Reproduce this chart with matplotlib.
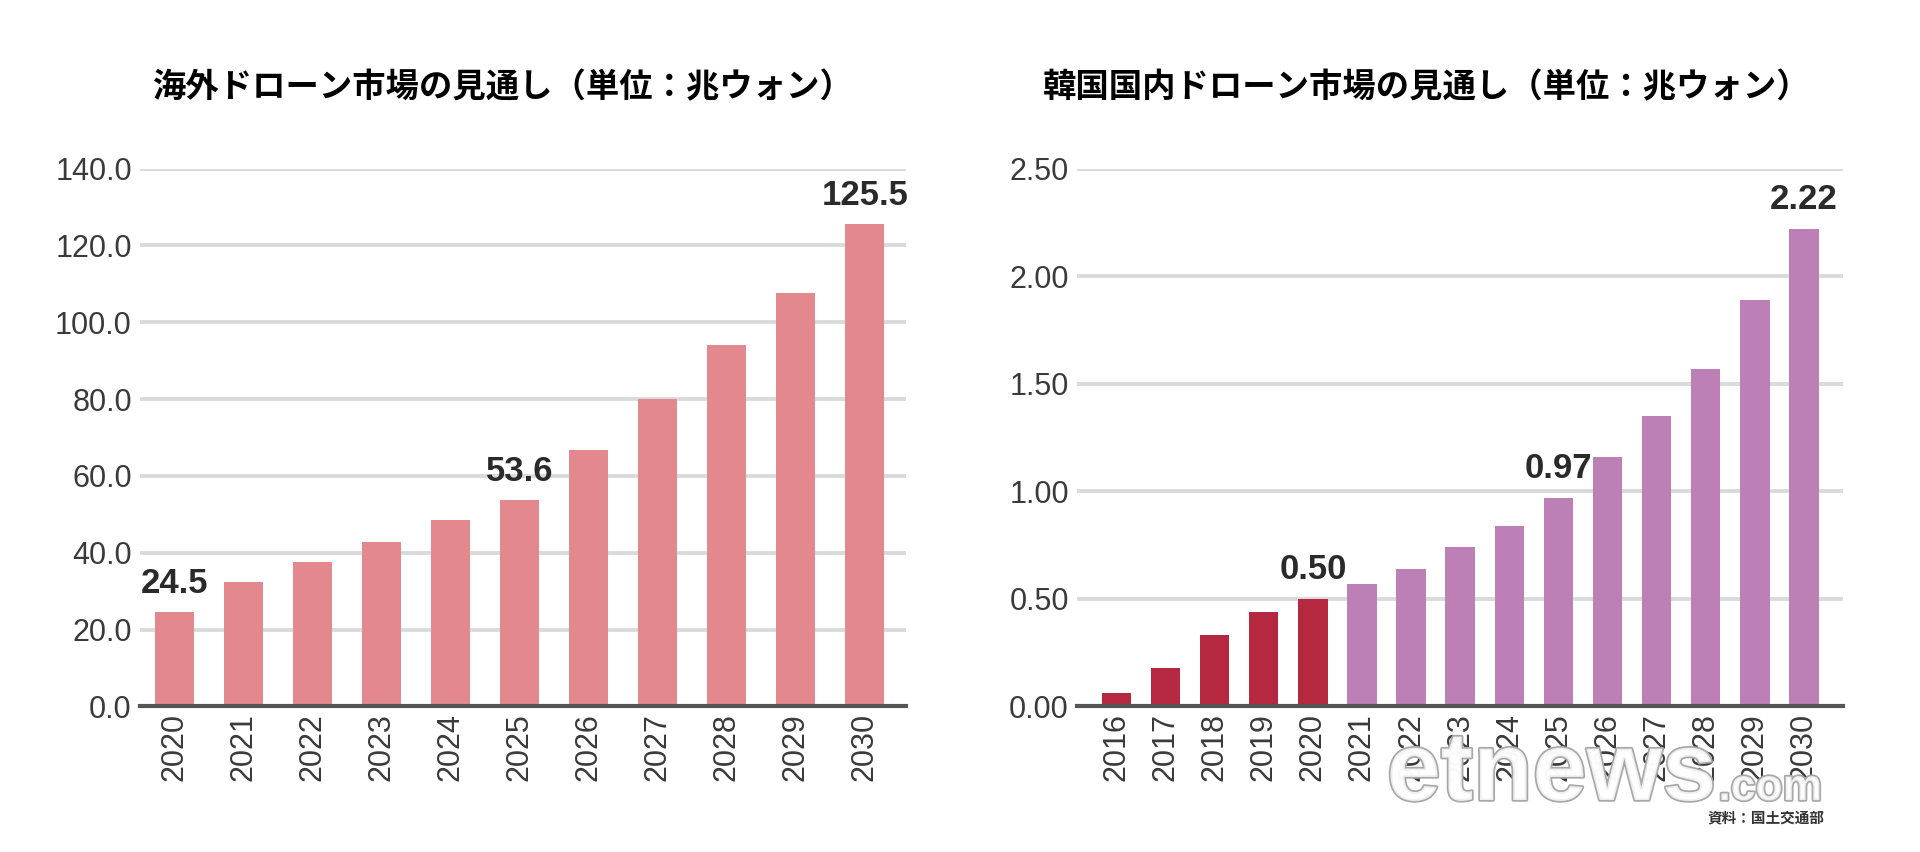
import numpy as np
import matplotlib
matplotlib.use('Agg')
import matplotlib.pyplot as plt
import matplotlib.patheffects as pe

plt.rcParams['font.family'] = ['Noto Sans CJK JP', 'DejaVu Sans']

# data
world_years = ['2020', '2021', '2022', '2023', '2024', '2025', '2026', '2027', '2028', '2029', '2030']
world_values = [24.5, 32.5, 37.5, 42.8, 48.6, 53.6, 66.8, 80.0, 94.2, 107.5, 125.5]
world_labels = {0: '24.5', 5: '53.6', 10: '125.5'}

korea_years = ['2016', '2017', '2018', '2019', '2020', '2021', '2022', '2023',
               '2024', '2025', '2026', '2027', '2028', '2029', '2030']
korea_values = [0.06, 0.18, 0.33, 0.44, 0.50, 0.57, 0.64, 0.74,
                0.84, 0.97, 1.16, 1.35, 1.57, 1.89, 2.22]
korea_labels = {4: '0.50', 9: '0.97', 14: '2.22'}

world_title = '海外ドローン市場の見通し（単位：兆ウォン）'
korea_title = '韓国国内ドローン市場の見通し（単位：兆ウォン）'
source_text = '資料：国土交通部'

pink = '#E3888C'
dark_red = '#B5283F'
purple = '#BC80B7'
grid_col = '#DADADA'
text_col = '#3A3A3A'
num_font = ['Liberation Sans', 'DejaVu Sans']

fig = plt.figure(figsize=(19.2, 8.52), dpi=100)
ax1 = fig.add_axes([0.073, 0.171, 0.399, 0.631])
ax2 = fig.add_axes([0.561, 0.171, 0.399, 0.631])


def style(ax, ticks, fmt):
    ax.set_facecolor('none')
    ax.set_yticks(ticks)
    ax.set_yticklabels([fmt.format(t) for t in ticks], fontsize=22, color=text_col,
                       family=num_font)
    ax.yaxis.grid(True, color=grid_col, linewidth=2.8)
    ax.set_axisbelow(True)
    for s in ['top', 'right', 'left']:
        ax.spines[s].set_visible(False)
    ax.spines['bottom'].set_color('#555555')
    ax.spines['bottom'].set_linewidth(3)
    ax.tick_params(axis='y', length=0, pad=6)
    ax.tick_params(axis='x', length=0, pad=5, labelsize=22, labelcolor=text_col)


# left chart
x1 = np.arange(len(world_years))
ax1.bar(x1, world_values, width=0.57, color=pink)
ax1.set_xticks(x1)
ax1.set_xticklabels(world_years, rotation=90, family=num_font)
ax1.set_xlim(-0.5, len(world_years) - 0.4)
ax1.set_ylim(0, 140)
style(ax1, np.arange(0, 141, 20), '{:.1f}')
for i, lab in world_labels.items():
    ax1.text(x1[i], world_values[i] + 3.2, lab, ha='center', va='bottom', fontsize=25,
             fontweight='bold', color='#2A2A2A', family=num_font)
fig.text(0.262, 0.897, world_title, ha='center', va='center', fontsize=24, fontweight='bold')

# right chart
x2 = np.arange(len(korea_years))
colors2 = [dark_red if int(y) <= 2020 else purple for y in korea_years]
ax2.bar(x2, korea_values, width=0.6, color=colors2)
ax2.set_xticks(x2)
ax2.set_xticklabels(korea_years, rotation=90, family=num_font)
ax2.set_xlim(-0.8, len(korea_years) - 0.2)
ax2.set_ylim(0, 2.5)
style(ax2, np.arange(0, 2.51, 0.5), '{:.2f}')
for i, lab in korea_labels.items():
    ax2.text(x2[i], korea_values[i] + 0.06, lab, ha='center', va='bottom', fontsize=25,
             fontweight='bold', color='#2A2A2A', family=num_font)
fig.text(0.743, 0.897, korea_title, ha='center', va='center', fontsize=24, fontweight='bold')

# watermark (white letters with grey outline, laid over the year labels)
wm_fx = [pe.Stroke(linewidth=2.5, foreground='#A8A8A8'), pe.Normal()]
fig.text(0.894, 0.061, 'etnews', ha='right', va='baseline', fontsize=70,
         fontweight='bold', color=(1, 1, 1, 0.82), zorder=5,
         family=num_font, path_effects=wm_fx)
fig.text(0.895, 0.061, '.com', ha='left', va='baseline', fontsize=32,
         fontweight='bold', color=(1, 1, 1, 0.82), zorder=5,
         family=num_font, path_effects=wm_fx)

fig.text(0.950, 0.040, source_text, ha='right', va='center', fontsize=10.5,
         fontweight='bold', color='#333333', zorder=6)

fig.savefig('out.png', dpi=100, facecolor='white')
